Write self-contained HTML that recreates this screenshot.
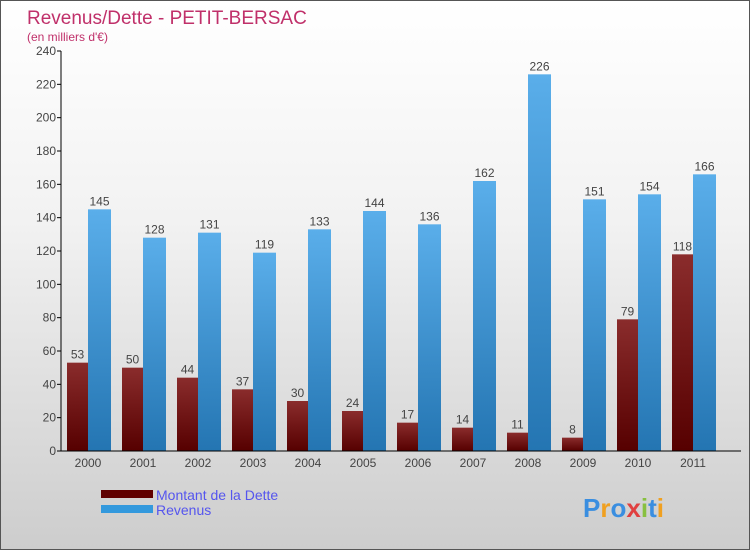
<!DOCTYPE html>
<html><head><meta charset="utf-8"><style>
body{margin:0}
#c{width:750px;height:550px;position:relative;overflow:hidden;background:linear-gradient(#fff,#f2f2f2 40%,#cdcdcd);box-sizing:border-box;border:1px solid #555;font-family:"Liberation Sans",sans-serif}
</style></head><body>
<div id="c">
<svg width="750" height="550" id="svg">
<defs>
<linearGradient id="gd" x1="0" y1="0" x2="0" y2="1"><stop offset="0" stop-color="#8a2c2c"/><stop offset="1" stop-color="#560000"/></linearGradient>
<linearGradient id="gr" x1="0" y1="0" x2="0" y2="1"><stop offset="0" stop-color="#5aaeea"/><stop offset="1" stop-color="#2475b2"/></linearGradient>
</defs>
<text x="26" y="23" font-size="19" fill="#c0306a">Revenus/Dette - PETIT-BERSAC</text>
<text x="26" y="40" font-size="12" fill="#c0306a">(en milliers d'€)</text>
<g id="plot"></g>
<rect x="100" y="489" width="52" height="8" fill="#600000"/>
<text x="155" y="499" font-size="14" fill="#5555ee">Montant de la Dette</text>
<rect x="100" y="504" width="52" height="8" fill="#3399dd"/>
<text x="155" y="514" font-size="14" fill="#5555ee">Revenus</text>
<text x="582" y="516" font-size="26" font-weight="bold"><tspan fill="#3a8ee0">P</tspan><tspan fill="#f0a020">r</tspan><tspan fill="#3a8ee0">o</tspan><tspan fill="#e04040">x</tspan><tspan fill="#88c040">i</tspan><tspan fill="#3a8ee0">t</tspan><tspan fill="#f0a020">i</tspan></text>
</svg>
</div>
<script>
const years=["2000","2001","2002","2003","2004","2005","2006","2007","2008","2009","2010","2011"];
const dette=[53,50,44,37,30,24,17,14,11,8,79,118];
const revenus=[145,128,131,119,133,144,136,162,226,151,154,166];
const ticks=[0,20,40,60,80,100,120,140,160,180,200,220,240];
const NS="http://www.w3.org/2000/svg";
const g=document.getElementById('plot');
const x0=60,y0=450,yTop=50,maxV=240,band=55;
const y=v=>y0-(v/maxV)*(y0-yTop);
const bx=i=>x0+i*band;
function mk(t,a){const e=document.createElementNS(NS,t);for(const k in a)e.setAttribute(k,a[k]);g.appendChild(e);return e;}
ticks.forEach(t=>{
 const l=mk('line',{x1:x0-4,x2:x0,y1:y(t),y2:y(t),stroke:'#000'});
 
 
 const tx=mk('text',{x:x0-5,y:y(t)+4,'font-size':12,'text-anchor':'end',fill:'#444'});
 tx.textContent=t;
 
 
});
years.forEach((yr,i)=>{
 const c=bx(i)+27;
 const d=mk('rect',{x:c-21,y:y(dette[i]),width:21,height:y0-y(dette[i]),fill:'url(#gd)'});
 
 
 const r=mk('rect',{x:c,y:y(revenus[i]),width:23,height:y0-y(revenus[i]),fill:'url(#gr)'});
 
 
 const t1=mk('text',{x:c-10.5,y:y(dette[i])-4,'font-size':12,'text-anchor':'middle',fill:'#444'});
 t1.textContent=dette[i];
 
 
 const t2=mk('text',{x:c+11.5,y:y(revenus[i])-4,'font-size':12,'text-anchor':'middle',fill:'#444'});
 t2.textContent=revenus[i];
 
 
 const xl=mk('text',{x:c,y:466,'font-size':12,'text-anchor':'middle',fill:'#444'});
 xl.textContent=yr;
 
 
});
const ax=mk('line',{x1:x0,x2:x0,y1:yTop,y2:y0,stroke:'#000'});


const axx=mk('line',{x1:x0,x2:740,y1:y0,y2:y0,stroke:'#000'});


</script>
</body></html>
